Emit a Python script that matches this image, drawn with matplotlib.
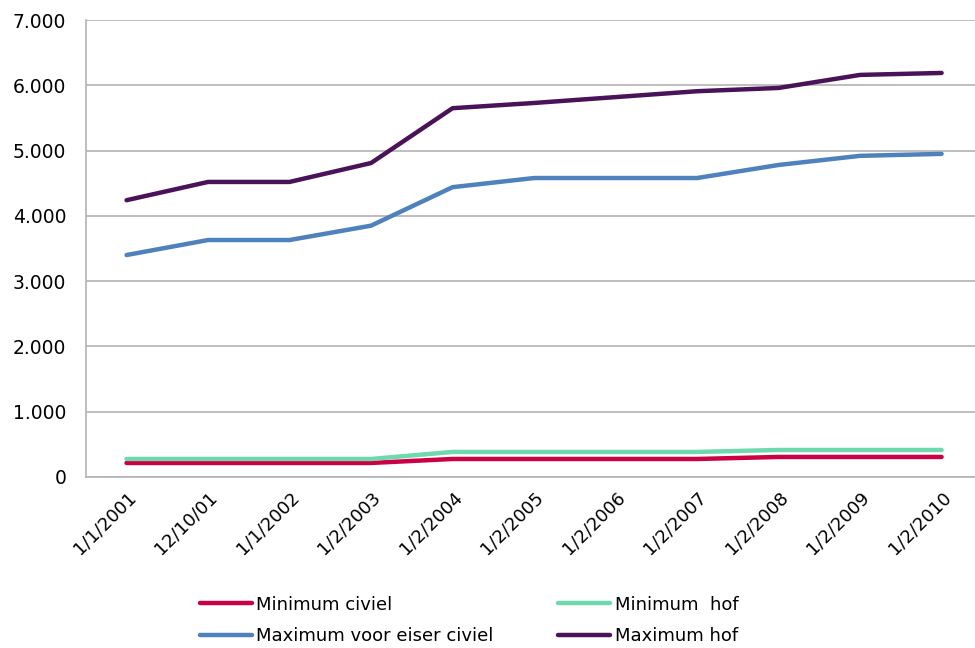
# Line chart: minimum / maximum amounts per date

import numpy as np
import matplotlib.pyplot as plt

dates = ['1/1/2001', '12/10/01', '1/1/2002', '1/2/2003', '1/2/2004', '1/2/2005',
         '1/2/2006', '1/2/2007', '1/2/2008', '1/2/2009', '1/2/2010']

min_civiel = [214, 214, 214, 214, 275, 275, 275, 275, 306, 306, 306]
min_hof = [275, 275, 275, 275, 383, 383, 383, 383, 413, 413, 413]
max_eiser_civiel = [3400, 3630, 3630, 3850, 4440, 4580, 4580, 4580, 4780, 4920, 4950]
max_hof = [4240, 4520, 4520, 4810, 5650, 5730, 5820, 5910, 5960, 6160, 6190]

series = [
    ('Minimum civiel', min_civiel, '#cc0044'),
    ('Minimum  hof', min_hof, '#6fd8ae'),
    ('Maximum voor eiser civiel', max_eiser_civiel, '#4f81bd'),
    ('Maximum hof', max_hof, '#4a1258'),
]

plt.rcParams['font.family'] = ['DejaVu Sans']
fig = plt.figure(figsize=(9.75, 6.48), dpi=100)
ax = fig.add_axes([0.088, 0.264, 0.912, 0.705])

x = np.arange(len(dates))
lines = {}
for name, vals, col in series:
    lines[name], = ax.plot(x, vals, color=col, lw=3.2, label=name,
                           solid_capstyle='round', solid_joinstyle='round')

ax.set_xlim(-0.5, 10.41)
ax.set_ylim(0, 7000)
ax.set_yticks(np.arange(0, 7001, 1000))
ax.set_yticklabels(['0' if v == 0 else f'{v // 1000}.000' for v in range(0, 7001, 1000)],
                   fontsize=13.5)
ax.set_xticks(x)
ax.set_xticklabels(dates, rotation=45, ha='right', rotation_mode='anchor', fontsize=13)
ax.tick_params(axis='y', length=0, pad=14)
ax.tick_params(axis='x', length=0, pad=8)

ax.grid(axis='y', color='#b3b3b3', lw=1.2)
ax.set_axisbelow(True)
for s in ['top', 'right']:
    ax.spines[s].set_visible(False)
ax.spines['left'].set_color('#b3b3b3')
ax.spines['bottom'].set_color('#b3b3b3')
ax.spines['left'].set_linewidth(1.2)
ax.spines['bottom'].set_linewidth(1.2)

# legend filled column-wise, so order handles to read row by row
order = ['Minimum civiel', 'Maximum voor eiser civiel', 'Minimum  hof', 'Maximum hof']
fig.legend([lines[n] for n in order], order, loc='lower left',
           bbox_to_anchor=(0.188, -0.021), ncol=2, frameon=False,
           fontsize=13, handlelength=2.9, handletextpad=0.25, columnspacing=3.55,
           labelspacing=0.75)

plt.savefig('out.png')
